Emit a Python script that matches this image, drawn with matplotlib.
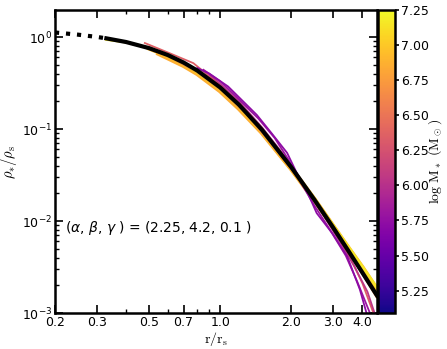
import matplotlib
matplotlib.use('Agg')
import matplotlib.pyplot as plt
import numpy as np
from matplotlib.ticker import FixedLocator, FixedFormatter, NullFormatter

# model profile, (alpha, beta, gamma) = (2.25, 4.2, 0.1)
model_x_dot = [0.2, 0.25, 0.3, 0.33]
model_y_dot = [1.12, 1.061, 1.003, 0.967]
model_x = [0.33, 0.4, 0.5, 0.6, 0.7, 0.8, 1.0, 1.2, 1.5, 2.0, 2.5, 3.0, 3.5, 4.0, 4.6]
model_y = [0.967, 0.882, 0.757, 0.637, 0.528, 0.432, 0.283, 0.184, 0.0984,
           0.0384, 0.01715, 0.00856, 0.00467, 0.00274, 0.00156]

# individual galaxies: log stellar mass, radii, density
gal_logm = [6.85, 6.95, 6.6, 7.15, 6.35, 6.05, 5.8, 5.72]
gal_lw = [3.5, 3.0, 2.0, 2.0, 1.3, 1.3, 1.3, 1.3]
gal_x = [
    [0.55, 0.7, 0.8, 1.0, 1.2, 1.5, 2.0, 2.5, 3.0, 3.5, 4.0, 4.6],
    [0.5, 0.6, 0.7, 0.8, 1.0, 1.2, 1.5, 2.0, 2.5, 3.0, 3.5, 4.0, 4.6],
    [0.5, 0.6, 0.8, 1.0, 1.3, 1.6, 2.0, 2.5, 3.0, 3.5, 4.0, 4.6],
    [0.33, 0.4, 0.5, 0.6, 0.7, 0.8, 1.0, 1.2, 1.5, 2.0, 2.5, 3.0, 3.5, 4.0, 4.6],
    [0.48, 0.6, 0.77, 1.0, 1.3, 1.6, 2.0, 2.5, 3.0, 3.5, 4.0, 4.45],
    [0.9, 1.0, 1.2, 1.5, 1.8, 2.0, 2.4, 2.8, 3.2, 3.7, 4.2, 4.5],
    [0.85, 1.0, 1.2, 1.45, 1.7, 1.95, 2.2, 2.5, 2.9, 3.4, 3.8, 4.3],
    [0.8, 0.9, 1.08, 1.25, 1.43, 1.65, 1.92, 2.1, 2.35, 2.56, 3.0, 3.45, 3.9, 4.16],
]
gal_y = [
    [0.66, 0.49, 0.40, 0.26, 0.168, 0.092, 0.037, 0.0172, 0.0088, 0.0050, 0.0031, 0.0018],
    [0.75, 0.62, 0.50, 0.41, 0.27, 0.175, 0.094, 0.037, 0.0170, 0.0088, 0.0049, 0.0030, 0.0018],
    [0.75, 0.63, 0.42, 0.275, 0.145, 0.077, 0.0375, 0.0168, 0.0086, 0.0047, 0.0027, 0.0015],
    [0.94, 0.88, 0.76, 0.63, 0.52, 0.42, 0.277, 0.18, 0.097, 0.0385, 0.0177, 0.0091, 0.0052, 0.0032, 0.0019],
    [0.86, 0.68, 0.52, 0.30, 0.15, 0.078, 0.037, 0.0165, 0.0083, 0.0043, 0.0021, 0.001],
    [0.39, 0.31, 0.20, 0.105, 0.058, 0.040, 0.020, 0.0105, 0.0060, 0.0032, 0.0017, 0.001],
    [0.44, 0.33, 0.21, 0.13, 0.08, 0.046, 0.026, 0.0148, 0.0082, 0.0042, 0.0022, 0.001],
    [0.46, 0.40, 0.29, 0.20, 0.142, 0.09, 0.055, 0.034, 0.020, 0.0122, 0.0072, 0.0041, 0.0018, 0.001],
]

mass_min, mass_max = 5.09, 7.25
cbar_ticks = [5.25, 5.5, 5.75, 6.0, 6.25, 6.5, 6.75, 7.0, 7.25]
xtick_vals = [0.2, 0.3, 0.5, 0.7, 1.0, 2.0, 3.0, 4.0]
xtick_minor = [0.4, 0.6, 0.8, 0.9]

fig = plt.figure(figsize=(4.47, 3.49), dpi=100)
ax = fig.add_axes([0.123, 0.103, 0.721, 0.868])
cax = fig.add_axes([0.846, 0.103, 0.038, 0.868])

cmap = plt.get_cmap('plasma')
norm = matplotlib.colors.Normalize(vmin=mass_min, vmax=mass_max)

for m, lw, xs, ys in zip(gal_logm, gal_lw, gal_x, gal_y):
    ax.plot(xs, ys, color=cmap(norm(m)), lw=lw, zorder=2)

ax.plot(model_x, model_y, color='k', lw=3, zorder=3)
ax.plot(model_x_dot, model_y_dot, color='k', lw=3, ls=':', zorder=3)

ax.set_xscale('log')
ax.set_yscale('log')
ax.set_xlim(0.2, 4.62)
ax.set_ylim(1e-3, 1.96)

ax.xaxis.set_major_locator(FixedLocator(xtick_vals))
ax.xaxis.set_major_formatter(FixedFormatter(['%.1f' % v for v in xtick_vals]))
ax.xaxis.set_minor_locator(FixedLocator(xtick_minor))
ax.xaxis.set_minor_formatter(NullFormatter())

ax.tick_params(which='both', direction='in', top=True, right=True, labelsize=9)
ax.tick_params(which='major', length=6, width=1.2, pad=2)
ax.tick_params(which='minor', length=3, width=1)
for s in ax.spines.values():
    s.set_linewidth(1.8)

ax.set_xlabel(r'$\rm r/r_s$', fontsize=10, math_fontfamily='cm', labelpad=1)
ax.set_ylabel(r'$\rho_{*}/\rho_{\rm s}$', fontsize=10.5, math_fontfamily='cm', labelpad=2)

ax.text(0.22, 0.0085, r'($\alpha$, $\beta$, $\gamma$ ) = (2.25, 4.2, 0.1 )',
        fontsize=10, va='center')

sm = matplotlib.cm.ScalarMappable(norm=norm, cmap=cmap)
cb = fig.colorbar(sm, cax=cax, ticks=cbar_ticks)
cb.ax.set_yticklabels(['%.2f' % t for t in cbar_ticks])
cb.ax.tick_params(labelsize=9, length=3, width=1.2, pad=1)
cb.outline.set_linewidth(1.8)
cb.set_label(r'$\rm log\ M_*\ (M_\odot)$', fontsize=10, math_fontfamily='cm', labelpad=-2)

plt.savefig('out.png', dpi=100)
